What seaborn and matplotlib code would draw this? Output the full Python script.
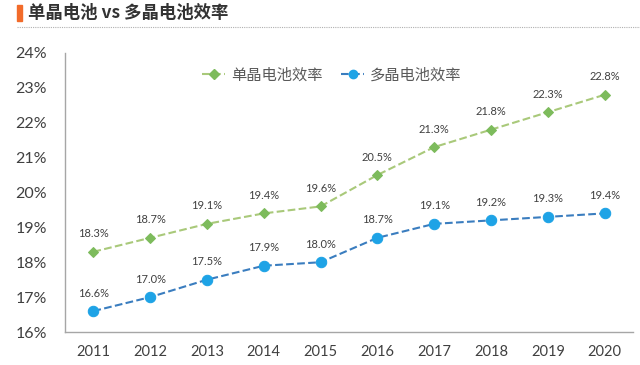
import numpy as np
import pandas as pd
import matplotlib.pyplot as plt
import seaborn as sns
from matplotlib.lines import Line2D

years = [2011, 2012, 2013, 2014, 2015, 2016, 2017, 2018, 2019, 2020]
mono = [18.3, 18.7, 19.1, 19.4, 19.6, 20.5, 21.3, 21.8, 22.3, 22.8]
poly = [16.6, 17.0, 17.5, 17.9, 18.0, 18.7, 19.1, 19.2, 19.3, 19.4]
yticks = [16, 17, 18, 19, 20, 21, 22, 23, 24]

sns.set_style('white')
plt.rcParams['font.family'] = ['Noto Sans CJK SC', 'DejaVu Sans']

df = pd.DataFrame({'year': years, 'mono': mono, 'poly': poly})

fig = plt.figure(figsize=(6.4, 3.65), dpi=100)
ax = fig.add_axes([0.1016, 0.0904, 0.8874, 0.7646])

sns.lineplot(data=df, x='year', y='mono', ax=ax, color='#a9c97a', linestyle='--',
             linewidth=1.5, marker='D', markersize=5.5, markerfacecolor='#7dbb5c',
             markeredgecolor='#7dbb5c')
sns.lineplot(data=df, x='year', y='poly', ax=ax, color='#3a7dbf', linestyle='--',
             linewidth=1.5, marker='o', markersize=7.5, markerfacecolor='#1ea3e6',
             markeredgecolor='#1ea3e6')

for x, m, p in zip(years, mono, poly):
    ax.annotate(f'{m:.1f}%', (x, m), xytext=(0, 9), textcoords='offset points',
                ha='center', va='bottom', fontsize=8, color='#404040',
                family=['Lato'])
    ax.annotate(f'{p:.1f}%', (x, p), xytext=(0, 9), textcoords='offset points',
                ha='center', va='bottom', fontsize=8, color='#404040',
                family=['Lato'])

ax.set_xlim(2010.5, 2020.5)
ax.set_ylim(16, 24)
ax.set_xticks(years)
ax.set_xticklabels([str(y) for y in years], fontsize=10.5, color='#404040',
                   family=['Lato'])
ax.set_yticks(yticks)
ax.set_yticklabels([f'{t}%' for t in yticks], fontsize=11.5, color='#404040',
                   family=['Lato'])
ax.tick_params(axis='y', length=0, pad=13)
ax.tick_params(axis='x', length=0, pad=9)
ax.set_xlabel('')
ax.set_ylabel('')
for s in ['top', 'right']:
    ax.spines[s].set_visible(False)
for s in ['left', 'bottom']:
    ax.spines[s].set_color('#a6a6a6')
    ax.spines[s].set_linewidth(1)

handles = [
    Line2D([0], [0], color='#a9c97a', linestyle='--', marker='D', markersize=5,
           markerfacecolor='#7dbb5c', markeredgecolor='#7dbb5c'),
    Line2D([0], [0], color='#3a7dbf', linestyle='--', marker='o', markersize=6,
           markerfacecolor='#1ea3e6', markeredgecolor='#1ea3e6'),
]
ax.legend(handles, ['单晶电池效率', '多晶电池效率'], loc='upper center',
          bbox_to_anchor=(0.47, 1.0), ncol=2, frameon=False, fontsize=11,
          handlelength=1.5, handletextpad=0.4, columnspacing=1.2,
          labelcolor='#595959')

# title block
fig.patches.append(plt.Rectangle((17 / 640, 1 - 21 / 365), 5 / 640, 16 / 365,
                                 transform=fig.transFigure, color='#f26b2a'))
fig.text(28 / 640, 1 - 13 / 365, '单晶电池 vs 多晶电池效率', fontsize=12.5,
         fontweight='bold', color='#333333', va='center', ha='left')
fig.add_artist(Line2D([17 / 640, 1.0], [1 - 27 / 365, 1 - 27 / 365],
                      transform=fig.transFigure, color='#b0b0b0',
                      linestyle=(0, (1, 1)), linewidth=0.8))

fig.savefig('out.png', dpi=100)
